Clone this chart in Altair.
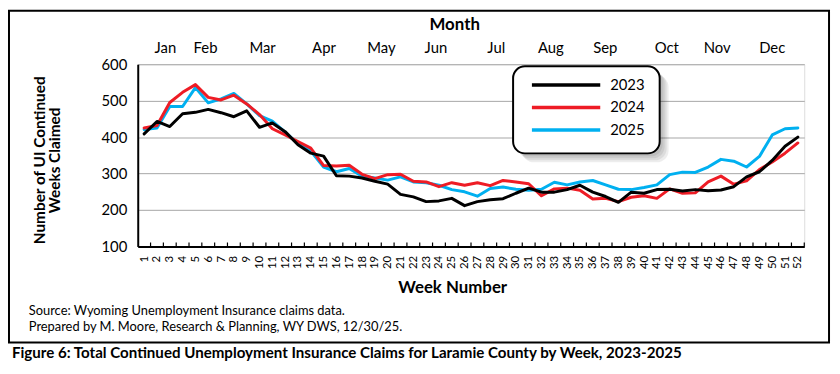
import altair as alt
import pandas as pd

weeks = list(range(1, 53))
y2023 = [409, 443, 429, 464, 468, 476, 467, 456, 472, 427, 439, 415, 379, 356, 348, 294,
         293, 288, 279, 271, 243, 236, 223, 225, 232, 212, 223, 228, 231, 246, 260, 249,
         249, 256, 268, 249, 237, 221, 249, 246, 256, 257, 252, 256, 253, 255, 264, 291,
         305, 336, 375, 400]
y2024 = [425, 432, 495, 523, 544, 509, 502, 515, 491, 462, 423, 406, 388, 370, 322, 321,
         323, 298, 286, 297, 298, 279, 277, 264, 275, 268, 275, 267, 281, 277, 272, 239,
         258, 260, 254, 230, 232, 223, 235, 239, 232, 258, 246, 247, 277, 293, 271, 280,
         311, 332, 356, 384]
y2025 = [421, 425, 484, 484, 536, 494, 505, 520, 491, 459, 444, 414, 382, 362, 318, 305,
         314, 293, 288, 282, 291, 277, 275, 268, 256, 250, 238, 259, 263, 257, 254, 257,
         276, 269, 277, 281, 269, 257, 256, 262, 269, 297, 304, 303, 318, 339, 334, 318,
         347, 406, 423, 425]
years = ["2023", "2024", "2025"]
colors = ["#000000", "#EE1C25", "#00B0F0"]
months = ["Jan", "Feb", "Mar", "Apr", "May", "Jun", "Jul", "Aug", "Sep", "Oct", "Nov", "Dec"]
month_pos = [2.66, 5.79, 10.24, 15.03, 19.51, 23.76, 28.47, 32.73, 36.98, 41.77, 45.71, 50.0]
y_ticks = [100, 200, 300, 400, 500, 600]
tick_pos = [w + 0.5 for w in weeks]

FONT = "Lato"
W, H = 673, 184

series = {"2023": y2023, "2024": y2024, "2025": y2025}
xscale = alt.Scale(domain=[0.5, 52.5], nice=False, zero=False)
yscale = alt.Scale(domain=[100, 600], nice=False, zero=False)

xaxis = alt.Axis(values=weeks, title=None, labelAngle=270, ticks=False,
                 grid=False, labelFont=FONT, labelFontSize=11.5,
                 labelPadding=9, labelColor="#000", domainColor="#000",
                 domainWidth=2, labelFlush=False, labelOverlap=False)
yaxis = alt.Axis(values=y_ticks, title=None, ticks=False, grid=True,
                 gridColor="#A6A6A6", gridWidth=1, labelFont=FONT,
                 labelFontSize=15, labelPadding=11, labelColor="#000",
                 domainColor="#000", domainWidth=2, labelOverlap=False,
                 labelFlush=False)


def line_layer(year, color):
    df = pd.DataFrame({"week": weeks, "claims": series[year]})
    return alt.Chart(df).mark_line(color=color, strokeWidth=3, strokeJoin="round",
                                   strokeCap="round").encode(
        x=alt.X("week:Q", scale=xscale, axis=xaxis),
        y=alt.Y("claims:Q", scale=yscale, axis=yaxis))


def txt(text, x, y, size, bold=False, align="center", angle=0):
    return alt.Chart(pd.DataFrame({"t": [text]})).mark_text(
        font=FONT, fontSize=size, fontWeight="bold" if bold else "normal",
        align=align, baseline="middle", angle=angle, color="#000"
    ).encode(x=alt.value(x), y=alt.value(y), text="t:N")


def box(x, x2, y, y2, **kw):
    return alt.Chart(pd.DataFrame({"a": [0]})).mark_rect(**kw).encode(
        x=alt.value(x), x2=alt.value(x2), y=alt.value(y), y2=alt.value(y2))


# origin of plot in page coords: (139, 63)
frame = box(-130, 698, -54, 281, fill=None, stroke="#000", strokeWidth=2)

ticks = alt.Chart(pd.DataFrame({"t": tick_pos})).mark_rule(color="#000", strokeWidth=1.2).encode(
    x=alt.X("t:Q", scale=xscale, axis=xaxis), y=alt.value(H), y2=alt.value(H - 4))

month_df = pd.DataFrame({"m": months, "pos": month_pos})
month_text = alt.Chart(month_df).mark_text(font=FONT, fontSize=15, baseline="middle",
                                           color="#000").encode(
    x=alt.X("pos:Q", scale=xscale, axis=xaxis), y=alt.value(-16), text="m:N")

# legend box with soft shadow
shadows = [box(379 + d, 527 + d, 2 + d, 90 + d, fill="#000", opacity=0.07, cornerRadius=12)
           for d in (3, 5, 7, 9)]
leg_box = box(379, 527, 2, 90, fill="#FFFFFF", stroke="#000", strokeWidth=2, cornerRadius=12)
leg_rows = [21, 43.7, 66.3]
leg_lines = []
for yr, col, ry in zip(years, colors, leg_rows):
    leg_lines.append(alt.Chart(pd.DataFrame({"a": [0]})).mark_rule(color=col, strokeWidth=3.5).encode(
        x=alt.value(398), x2=alt.value(467), y=alt.value(ry)))
    leg_lines.append(txt(yr, 477, ry, 15, align="left"))

layers = [frame,
          line_layer("2025", colors[2]),
          line_layer("2024", colors[1]),
          line_layer("2023", colors[0]),
          ticks, month_text,
          txt("Month", 320, -40, 17, bold=True),
          txt("Week Number", 318, 226, 17, bold=True),
          txt("Number of UI Continued", -99, 97, 15.5, bold=True, angle=270),
          txt("Weeks Claimed", -83, 97, 15.5, bold=True, angle=270),
          txt("Source: Wyoming Unemployment Insurance claims data.", -110, 249, 13, align="left"),
          txt("Prepared by M. Moore, Research & Planning, WY DWS, 12/30/25.", -110, 265, 13, align="left"),
          txt("Figure 6: Total Continued Unemployment Insurance Claims for Laramie County by Week, 2023-2025",
              -127, 292, 15.25, bold=True, align="left"),
          ] + shadows + [leg_box] + leg_lines

chart = alt.layer(*layers).properties(
    width=W, height=H,
    autosize=alt.AutoSizeParams(type="none"),
    padding={"left": 131, "top": 55, "right": 28, "bottom": 127},
).configure_view(stroke=None).configure(background="#FFFFFF")

chart.save("out.html", embed_options={"renderer": "svg", "actions": False})
